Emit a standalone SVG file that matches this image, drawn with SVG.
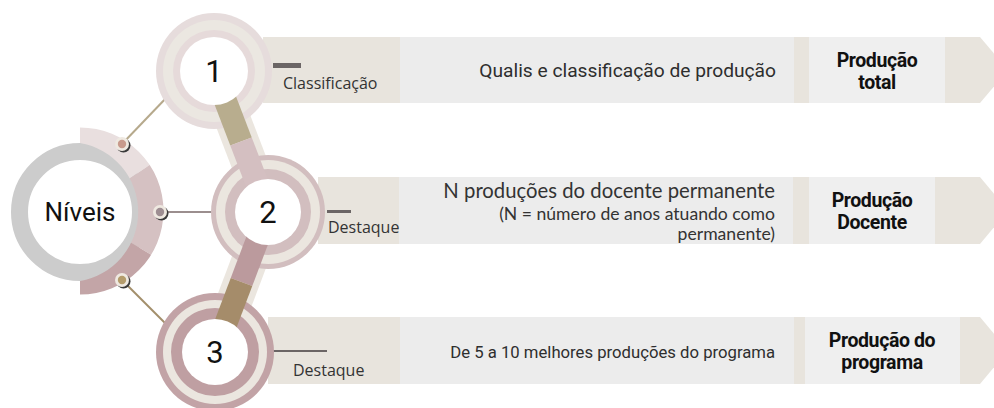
<svg xmlns="http://www.w3.org/2000/svg" width="994" height="408" viewBox="0 0 994 408">
<style>
.beige{fill:#e8e4dd}
.inner{fill:#ececec}
.box{fill:#efefef}
.lbl{font-family:"Open Sans",Lato,sans-serif;fill:#333;font-size:16px}
.main{font-family:Roboto,"Liberation Sans",sans-serif;fill:#2e2e2e}
.hum{font-family:Lato,"Open Sans",sans-serif;fill:#333}
.bold{font-family:Roboto,"Liberation Sans",sans-serif;font-weight:bold;fill:#111;font-size:19.5px;text-anchor:middle;letter-spacing:-0.4px}
.num{font-family:Roboto,"Liberation Sans",sans-serif;fill:#111;font-size:31px;text-anchor:middle}
.bar{fill:#6b6565}
</style>
<defs>
<clipPath id="ringclip"><path d="M80 127.5 A83.5 83.5 0 0 1 80 294.5 L80 281 A70 70 0 0 0 80 143 Z"/></clipPath>
</defs>

<g id="band1">
<path class="beige" d="M263 37 H980 L1008 70 L980 103 H263 Z"/>
<rect class="inner" x="400" y="37" width="394" height="66"/>
<rect class="box" x="809" y="37" width="136" height="66"/>
<rect class="bar" x="273" y="63" width="28" height="5"/>
<text class="lbl" x="283" y="89">Classificação</text>
<text class="main" x="776" y="77" font-size="19.2" text-anchor="end">Qualis e classificação de produção</text>
<text class="bold" x="877" y="67">Produção</text>
<text class="bold" x="877" y="89">total</text>
</g>

<g id="band2">
<path class="beige" d="M318 177 H980 L1008 210.5 L980 244 H318 Z"/>
<rect class="inner" x="399" y="177" width="394" height="67"/>
<rect class="box" x="809" y="177" width="126" height="67"/>
<rect class="bar" x="327" y="210" width="24" height="3"/>
<text class="lbl" x="328" y="233">Destaque</text>
<text class="hum" x="775" y="198" font-size="20.3" text-anchor="end">N produções do docente permanente</text>
<text class="hum" x="775" y="220" font-size="17.6" text-anchor="end">(N = número de anos atuando como</text>
<text class="hum" x="775" y="240" font-size="17.6" text-anchor="end">permanente)</text>
<text class="bold" x="872" y="207">Produção</text>
<text class="bold" x="872" y="229">Docente</text>
</g>

<g id="band3">
<path class="beige" d="M268 317 H980 L1008 350.5 L980 384 H268 Z"/>
<rect class="inner" x="400" y="317" width="394" height="67"/>
<rect class="box" x="805" y="317" width="155" height="67"/>
<rect class="bar" x="273" y="350" width="54" height="2"/>
<text class="lbl" x="293" y="376">Destaque</text>
<text class="main" x="775" y="358" font-size="16.7" text-anchor="end">De 5 a 10 melhores produções do programa</text>
<text class="bold" x="882" y="347">Produção do</text>
<text class="bold" x="882" y="369">programa</text>
</g>

<g id="connectors" fill="none" stroke-width="2">
<line x1="122" y1="144" x2="168" y2="96" stroke="#b6a98c"/>
<line x1="160" y1="212" x2="212" y2="212" stroke="#9b8e8e"/>
<line x1="122" y1="280" x2="165" y2="323" stroke="#a38f6b"/>
<line x1="214" y1="71" x2="268" y2="212" stroke="#ebe6df" stroke-width="36"/>
<line x1="268" y1="212" x2="215" y2="352" stroke="#ebe6df" stroke-width="36"/>
</g>

<g id="niveis">
<circle cx="80" cy="212" r="60.5" fill="#fff" stroke="#cccccc" stroke-width="17"/>
<g clip-path="url(#ringclip)">
<polygon points="80,212 60,0 245.8,100.2" fill="#e9dfdf"/>
<polygon points="80,212 245.8,100.2 300,212 251.4,315" fill="#d5c1c2"/>
<polygon points="80,212 251.4,315 60,424" fill="#c3a5a7"/>
</g>
<text x="80" y="221" font-family="Roboto,'Liberation Sans',sans-serif" font-size="26" fill="#111" text-anchor="middle">Níveis</text>
</g>

<g id="dots">
<circle cx="123.5" cy="145.5" r="7" fill="#3a3a3a"/>
<circle cx="122" cy="144" r="7" fill="#efe9e1"/>
<circle cx="122" cy="144" r="4.2" fill="#c89a8c"/>
<circle cx="161.5" cy="213.5" r="7" fill="#3a3a3a"/>
<circle cx="160" cy="212" r="7" fill="#efe9e1"/>
<circle cx="160" cy="212" r="4.2" fill="#9e8e92"/>
<circle cx="123.5" cy="281.5" r="7" fill="#3a3a3a"/>
<circle cx="122" cy="280" r="7" fill="#efe9e1"/>
<circle cx="122" cy="280" r="4.2" fill="#b49c6c"/>
</g>

<g id="circle1">
<circle cx="214" cy="71" r="58" fill="#e6dcdc"/>
<circle cx="214" cy="71" r="51" fill="#ebe7e1"/>
<circle cx="214" cy="71" r="41" fill="#e6dada"/>
</g>
<g id="circle2">
<circle cx="268" cy="212" r="57" fill="#d2bebf"/>
<circle cx="268" cy="212" r="52" fill="#ebe6df"/>
<circle cx="268" cy="212" r="43" fill="#d2bebf"/>
</g>
<g id="circle3">
<circle cx="215" cy="352" r="59" fill="#c2a3a6"/>
<circle cx="215" cy="352" r="52" fill="#ebe6df"/>
<circle cx="215" cy="352" r="44" fill="#bf9fa2"/>
</g>

<g id="tube-strips" fill="none" stroke-width="23">
<line x1="214" y1="71" x2="241" y2="141.5" stroke="#b8ad8e"/>
<line x1="241" y1="141.5" x2="268" y2="212" stroke="#d4bfc1"/>
<line x1="268" y1="212" x2="241.5" y2="282" stroke="#bb9a9d"/>
<line x1="241.5" y1="282" x2="215" y2="352" stroke="#a58c6a"/>
</g>

<g id="centers">
<circle cx="214" cy="71" r="34" fill="#fff"/>
<text class="num" x="214" y="82">1</text>
<circle cx="268" cy="212" r="33" fill="#fff"/>
<text class="num" x="268" y="223">2</text>
<circle cx="215" cy="352" r="33" fill="#fff"/>
<text class="num" x="215" y="363">3</text>
</g>
</svg>
